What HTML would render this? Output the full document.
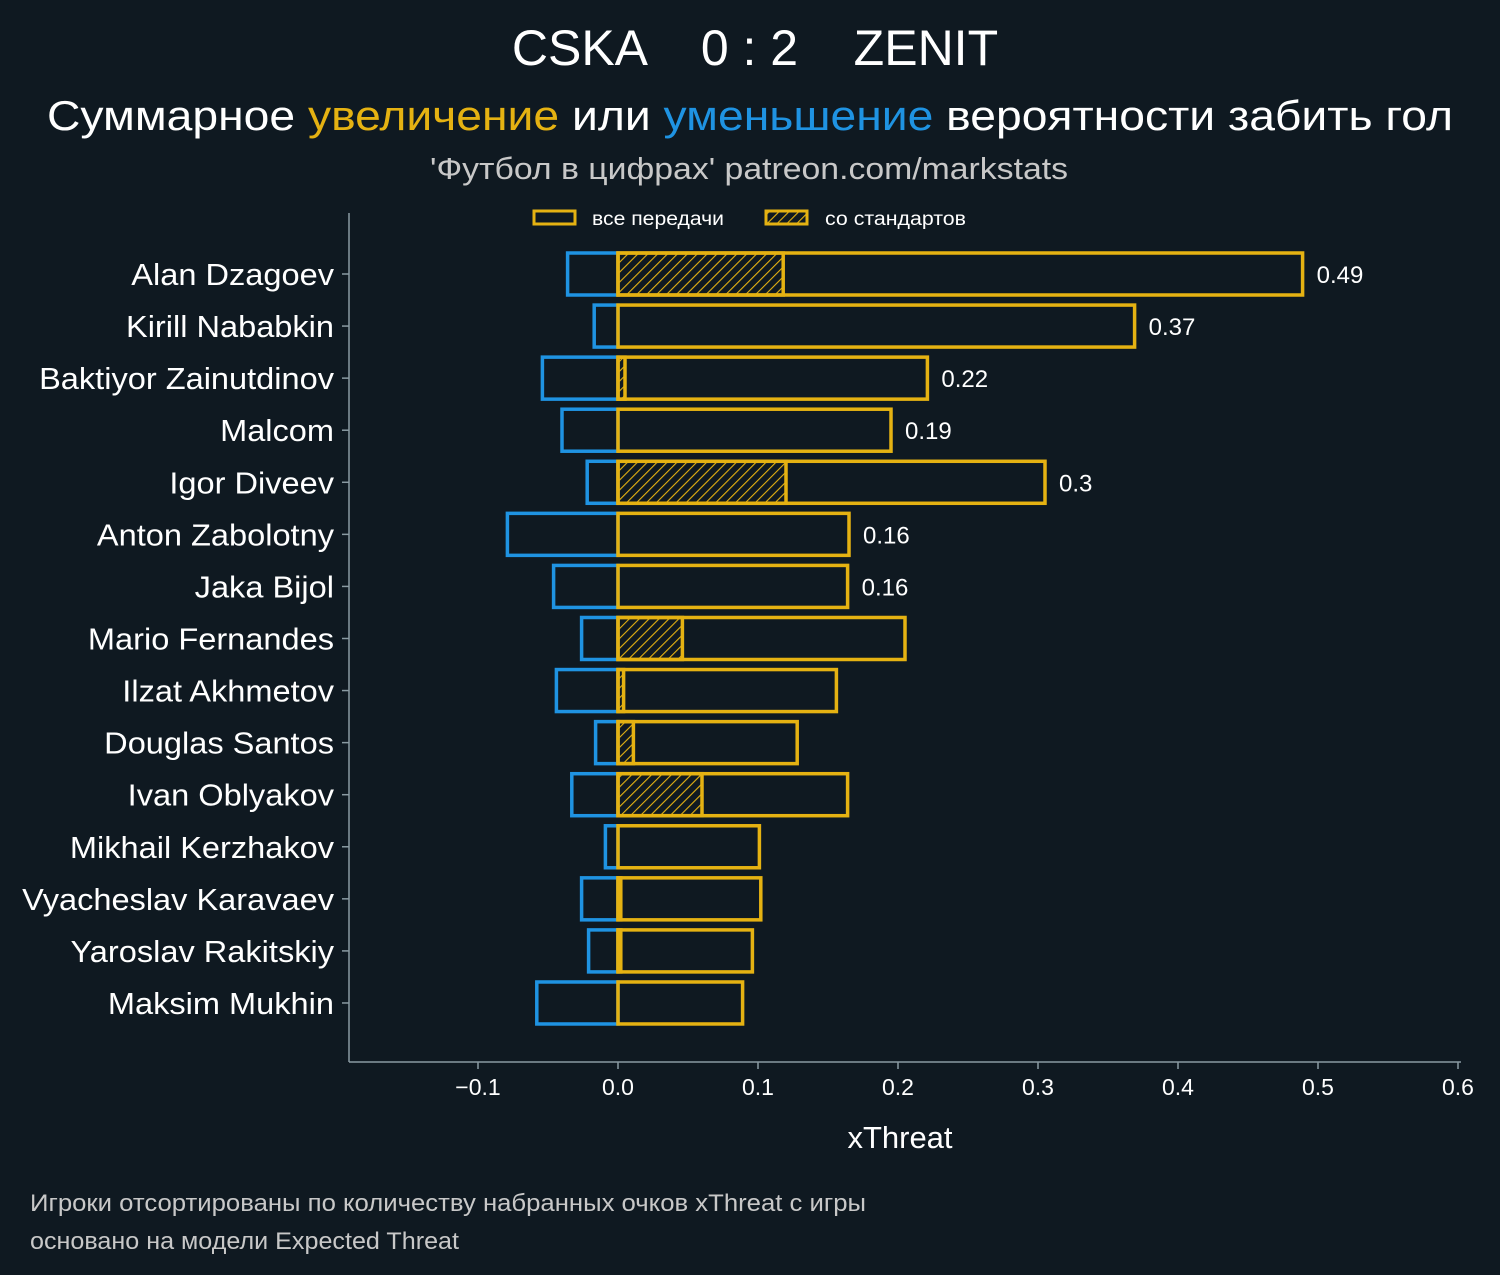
<!DOCTYPE html>
<html><head><meta charset="utf-8"><style>
html,body{margin:0;padding:0;background:#0f1921;}
svg{display:block;font-family:"Liberation Sans","DejaVu Sans",sans-serif;}
</style></head><body>
<svg id="chart" width="1500" height="1275" viewBox="0 0 1500 1275">
<defs>
<pattern id="hatch" patternUnits="userSpaceOnUse" width="7" height="7" patternTransform="rotate(45)">
<line x1="0" y1="0" x2="0" y2="7" stroke="#e5b212" stroke-width="2.2"/>
</pattern>
</defs>
<rect width="1500" height="1275" fill="#0f1921"/>
<text x="755" y="65" font-size="50" fill="#fff" text-anchor="middle" xml:space="preserve">CSKA    0 : 2    ZENIT</text>
<text x="47" y="130" font-size="42" fill="#fff" textLength="1406" lengthAdjust="spacingAndGlyphs">Суммарное <tspan fill="#e5b212">увеличение</tspan> или <tspan fill="#1f93e2">уменьшение</tspan> вероятности забить гол</text>
<text x="430" y="179" font-size="31" fill="#c8c8c8" textLength="638" lengthAdjust="spacingAndGlyphs">'Футбол в цифрах' patreon.com/markstats</text>
<g>
<rect x="534" y="211" width="41" height="13" fill="none" stroke="#e5b212" stroke-width="3"/>
<text x="592" y="225" font-size="19" fill="#fff" textLength="132" lengthAdjust="spacingAndGlyphs">все передачи</text>
<rect x="766" y="211" width="41" height="13" fill="url(#hatch)" stroke="#e5b212" stroke-width="3"/>
<text x="825" y="225" font-size="19" fill="#fff" textLength="141" lengthAdjust="spacingAndGlyphs">со стандартов</text>
</g>
<g id="plot"></g>
<text x="900" y="1148" font-size="31" fill="#fff" text-anchor="middle">xThreat</text>
<text x="30" y="1211" font-size="24" fill="#c8c8c8" textLength="836" lengthAdjust="spacingAndGlyphs">Игроки отсортированы по количеству набранных очков xThreat с игры</text>
<text x="30" y="1249" font-size="24" fill="#c8c8c8" textLength="429" lengthAdjust="spacingAndGlyphs">основано на модели Expected Threat</text>
</svg>
<script>
const players = ["Alan Dzagoev","Kirill Nababkin","Baktiyor Zainutdinov","Malcom","Igor Diveev","Anton Zabolotny","Jaka Bijol","Mario Fernandes","Ilzat Akhmetov","Douglas Santos","Ivan Oblyakov","Mikhail Kerzhakov","Vyacheslav Karavaev","Yaroslav Rakitskiy","Maksim Mukhin"];
const positive = [0.489,0.369,0.221,0.195,0.305,0.165,0.164,0.205,0.156,0.128,0.164,0.101,0.102,0.096,0.089];
const negative = [-0.036,-0.017,-0.054,-0.040,-0.022,-0.079,-0.046,-0.026,-0.044,-0.016,-0.033,-0.009,-0.026,-0.021,-0.058];
const setPieces = [0.118,0,0.005,0,0.120,0,0,0.046,0.004,0.011,0.060,0,0.002,0.002,0];
const valueLabels = ["0.49","0.37","0.22","0.19","0.3","0.16","0.16","","","","","","","",""];
const xTicks = [-0.1,0.0,0.1,0.2,0.3,0.4,0.5,0.6];
const xTickLabels = ["−0.1","0.0","0.1","0.2","0.3","0.4","0.5","0.6"];

const NS="http://www.w3.org/2000/svg";
const plot=document.getElementById('plot');
const x=v=>618+v*1400;
const y=i=>274+i*52.07;
const H=42;
function mk(tag,attrs){const e=document.createElementNS(NS,tag);for(const k in attrs)e.setAttribute(k,attrs[k]);plot.appendChild(e);return e;}
let ax=mk('line',{x1:349,y1:213,x2:349,y2:1062,stroke:'#8a9aa2','stroke-width':1.5});


let bx=mk('line',{x1:349,y1:1062,x2:1461,y2:1062,stroke:'#8a9aa2','stroke-width':1.5});


xTicks.forEach((t,i)=>{
  const tk=mk('line',{x1:x(t),y1:1062,x2:x(t),y2:1069,stroke:'#8a9aa2','stroke-width':1.5});
  
  
  const tl=mk('text',{x:x(t),y:1095,'font-size':23,fill:'#fff','text-anchor':'middle'});
  tl.textContent=xTickLabels[i];
  
  
});
players.forEach((p,i)=>{
  const cy=y(i);
  const tk=mk('line',{x1:342,y1:cy,x2:349,y2:cy,stroke:'#8a9aa2','stroke-width':1.5});
  
  
  const lb=mk('text',{x:334,y:cy+11,'font-size':31,fill:'#fff','text-anchor':'end'});
  lb.textContent=p;
  
  
  const w=lb.getComputedTextLength();
  lb.setAttribute('textLength',(w*1.05).toFixed(1));
  lb.setAttribute('lengthAdjust','spacingAndGlyphs');
  const nb=mk('rect',{x:x(negative[i]),y:cy-H/2,width:x(0)-x(negative[i]),height:H,fill:'none',stroke:'#1f93e2','stroke-width':3.5});
  
  
  if(setPieces[i]>0){
    const sb=mk('rect',{x:x(0),y:cy-H/2,width:x(setPieces[i])-x(0),height:H,fill:'url(#hatch)',stroke:'#e5b212','stroke-width':3.5});
    
    
  }
  const pb=mk('rect',{x:x(0),y:cy-H/2,width:x(positive[i])-x(0),height:H,fill:'none',stroke:'#e5b212','stroke-width':3.5});
  
  
  if(valueLabels[i]){
    const vl=mk('text',{x:x(positive[i])+14,y:cy+9,'font-size':24,fill:'#fff'});
    vl.textContent=valueLabels[i];
    
    
  }
});
</script>
</body></html>
